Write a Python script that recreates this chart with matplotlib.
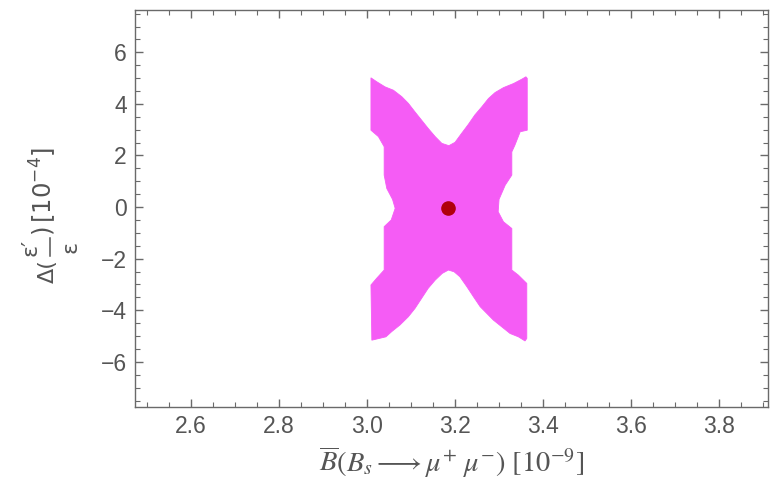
import matplotlib
matplotlib.use("Agg")
import matplotlib.pyplot as plt
from matplotlib.lines import Line2D
from matplotlib.ticker import MultipleLocator, FormatStrFormatter, FuncFormatter

# Boundary of the allowed (magenta) region (clockwise from top-left tip)
region_x = [3.009, 3.022, 3.041, 3.060, 3.079, 3.094, 3.109, 3.124, 3.139, 3.155, 3.170,
            3.186, 3.200, 3.215, 3.230, 3.245, 3.261, 3.276, 3.291, 3.310, 3.333, 3.352,
            3.361, 3.364, 3.364, 3.348, 3.336, 3.329, 3.329, 3.314, 3.300, 3.298, 3.310,
            3.329, 3.329, 3.344, 3.363, 3.363, 3.359, 3.344, 3.325, 3.306, 3.287, 3.272,
            3.257, 3.242, 3.227, 3.211, 3.198, 3.185, 3.171, 3.155, 3.139, 3.124, 3.109,
            3.094, 3.075, 3.056, 3.043, 3.011, 3.009, 3.022, 3.039, 3.039, 3.055, 3.064,
            3.058, 3.045, 3.039, 3.039, 3.026, 3.009]
region_y = [5.01, 4.86, 4.66, 4.53, 4.28, 4.02, 3.69, 3.37, 3.05, 2.73, 2.47,
            2.38, 2.51, 2.86, 3.20, 3.57, 3.89, 4.21, 4.44, 4.63, 4.79, 4.96,
            5.05, 4.99, 2.98, 2.92, 2.40, 2.14, 1.24, 0.85, 0.30, -0.18, -0.57,
            -0.83, -2.44, -2.64, -2.96, -5.09, -5.19, -5.03, -4.90, -4.64, -4.38, -4.12,
            -3.86, -3.48, -3.09, -2.70, -2.51, -2.44, -2.57, -2.83, -3.15, -3.54, -3.93,
            -4.25, -4.57, -4.83, -5.03, -5.16, -3.02, -2.76, -2.44, -0.76, -0.50, -0.05,
            0.30, 0.72, 1.24, 2.34, 2.73, 2.98]

# Central (SM) point
point_x = [3.185]
point_y = [-0.03]

xticks = [2.6, 2.8, 3.0, 3.2, 3.4, 3.6, 3.8]
yticks = [-6, -4, -2, 0, 2, 4, 6]

W, H = 775, 495
fig = plt.figure(figsize=(W / 100, H / 100), dpi=100)
ax = fig.add_axes([0.1742, 0.1778, 0.8168, 0.802])

ax.fill(region_x, region_y, color='#F55CF5', lw=0.6, ec='#F55CF5', zorder=2)
ax.plot(point_x, point_y, 'o', color='#B0000C', ms=9.5, zorder=3)

ax.set_xlim(2.473, 3.911)
ax.set_ylim(-7.75, 7.64)
ax.set_xticks(xticks)
ax.set_yticks(yticks)
ax.xaxis.set_minor_locator(MultipleLocator(0.05))
ax.yaxis.set_minor_locator(MultipleLocator(0.5))
ax.xaxis.set_major_formatter(FormatStrFormatter('%.1f'))
ax.yaxis.set_major_formatter(FuncFormatter(
    lambda v, p: ('\u2212%d' % abs(v)) if v < 0 else '%d' % v))

gray = '#6a6a6a'
tcol = '#555555'
for sp in ax.spines.values():
    sp.set_color(gray)
    sp.set_linewidth(1.0)

ax.tick_params(which='both', direction='in', top=True, right=True, color=gray)
ax.tick_params(which='major', length=6, width=1.0, labelsize=16.5, labelcolor=tcol, pad=6)
ax.tick_params(which='minor', length=3.5, width=0.8)
for lab in ax.get_xticklabels() + ax.get_yticklabels():
    lab.set_family('Liberation Sans')

ax.set_xlabel(r'$\overline{B}(B_s \longrightarrow \mu^{+}\ \mu^{-})\ [10^{-9}]$',
              fontsize=20.5, color=tcol, labelpad=5, math_fontfamily='stix')

# y-axis label: Δ(ε'/ε)[10^-4], built from rotated pieces (full-size fraction)
def fx(px):
    return px / W

def fy(py):
    return 1 - py / H

ylab_kw = dict(rotation=90, color=tcol, family='DejaVu Sans')
fig.text(fx(48), fy(283), '\u0394(', ha='center', va='bottom', fontsize=16, **ylab_kw)
fig.text(fx(31), fy(247), '\u03b5\u2032', ha='center', va='center', fontsize=16, **ylab_kw)
fig.text(fx(70), fy(247), '\u03b5', ha='center', va='center', fontsize=16, **ylab_kw)
fig.add_artist(Line2D([fx(50), fx(50)], [fy(256), fy(238)], color=tcol, lw=1.1,
                      transform=fig.transFigure))
fig.text(fx(43), fy(236), r'$)\,[10^{-4}]$', ha='center', va='bottom', fontsize=17.5,
         math_fontfamily='dejavusans', **ylab_kw)

fig.savefig('out.png', dpi=100)
